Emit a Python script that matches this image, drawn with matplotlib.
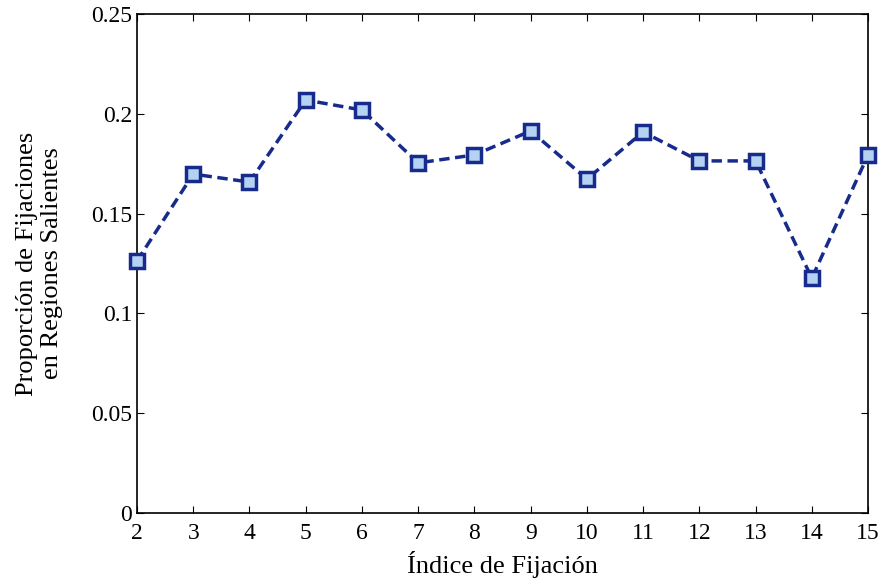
import matplotlib
matplotlib.use('Agg')
import matplotlib.pyplot as plt

plt.rcParams['font.family'] = ['Liberation Serif', 'DejaVu Serif']

fix_idx = [2, 3, 4, 5, 6, 7, 8, 9, 10, 11, 12, 13, 14, 15]
prop = [0.1263, 0.1698, 0.1658, 0.2069, 0.2019, 0.1754, 0.1794,
        0.1914, 0.1673, 0.1909, 0.1764, 0.1764, 0.1177, 0.1794]
yticks = [0, 0.05, 0.1, 0.15, 0.2, 0.25]
ytick_labels = ['0', '0.05', '0.1', '0.15', '0.2', '0.25']

fig = plt.figure(figsize=(8.84, 5.83), dpi=100)
ax = fig.add_axes([0.155, 0.12, 0.827, 0.856])

ax.plot(fix_idx, prop, '--s', color='#172b8c', lw=2.5, dashes=(3, 1.6),
        markersize=10, markeredgewidth=2.5, markerfacecolor='#b4d2f2',
        markeredgecolor='#172b8c', clip_on=False, zorder=3)

ax.set_xlim(2, 15)
ax.set_ylim(0, 0.25)
ax.set_xticks(fix_idx)
ax.set_yticks(yticks)
ax.set_yticklabels(ytick_labels)
ax.tick_params(direction='in', top=True, right=True, labelsize=17, length=5, width=0.8)
ax.tick_params(axis='x', pad=7)
for s in ax.spines.values():
    s.set_linewidth(1.2)

ax.set_xlabel('Índice de Fijación', fontsize=19, labelpad=5)
ax.set_ylabel('Proporción de Fijaciones\nen Regiones Salientes', fontsize=19, labelpad=20)

fig.savefig('out.png', dpi=100)
